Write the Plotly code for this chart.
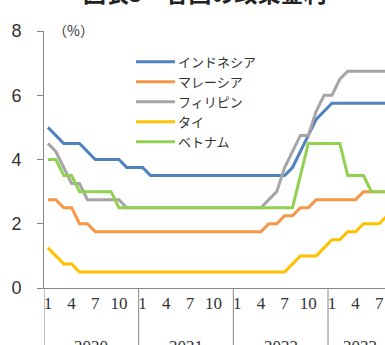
import plotly.graph_objects as go

# monthly policy rates, Jan 2020 - Aug 2023 (%)
indonesia = [5.00, 4.75, 4.50, 4.50, 4.50, 4.25, 4.00, 4.00, 4.00, 4.00, 3.75, 3.75,
             3.75, 3.50, 3.50, 3.50, 3.50, 3.50, 3.50, 3.50, 3.50, 3.50, 3.50, 3.50,
             3.50, 3.50, 3.50, 3.50, 3.50, 3.50, 3.50, 3.75, 4.25, 4.75, 5.25, 5.50,
             5.75, 5.75, 5.75, 5.75, 5.75, 5.75, 5.75, 5.75]
malaysia = [2.75, 2.75, 2.50, 2.50, 2.00, 2.00, 1.75, 1.75, 1.75, 1.75, 1.75, 1.75,
            1.75, 1.75, 1.75, 1.75, 1.75, 1.75, 1.75, 1.75, 1.75, 1.75, 1.75, 1.75,
            1.75, 1.75, 1.75, 1.75, 2.00, 2.00, 2.25, 2.25, 2.50, 2.50, 2.75, 2.75,
            2.75, 2.75, 2.75, 2.75, 3.00, 3.00, 3.00, 3.00]
philippines = [4.50, 4.25, 3.75, 3.25, 3.25, 2.75, 2.75, 2.75, 2.75, 2.75, 2.50, 2.50,
               2.50, 2.50, 2.50, 2.50, 2.50, 2.50, 2.50, 2.50, 2.50, 2.50, 2.50, 2.50,
               2.50, 2.50, 2.50, 2.50, 2.75, 3.00, 3.75, 4.25, 4.75, 4.75, 5.50, 6.00,
               6.00, 6.50, 6.75, 6.75, 6.75, 6.75, 6.75, 6.75]
thailand = [1.25, 1.00, 0.75, 0.75, 0.50, 0.50, 0.50, 0.50, 0.50, 0.50, 0.50, 0.50,
            0.50, 0.50, 0.50, 0.50, 0.50, 0.50, 0.50, 0.50, 0.50, 0.50, 0.50, 0.50,
            0.50, 0.50, 0.50, 0.50, 0.50, 0.50, 0.50, 0.75, 1.00, 1.00, 1.00, 1.25,
            1.50, 1.50, 1.75, 1.75, 2.00, 2.00, 2.00, 2.25]
vietnam = [4.00, 4.00, 3.50, 3.50, 3.00, 3.00, 3.00, 3.00, 3.00, 2.50, 2.50, 2.50,
           2.50, 2.50, 2.50, 2.50, 2.50, 2.50, 2.50, 2.50, 2.50, 2.50, 2.50, 2.50,
           2.50, 2.50, 2.50, 2.50, 2.50, 2.50, 2.50, 2.50, 3.50, 4.50, 4.50, 4.50,
           4.50, 4.50, 3.50, 3.50, 3.50, 3.00, 3.00, 3.00]

years = ["2020", "2021", "2022", "2023"]
months_per_year = [12, 12, 12, 8]
month_labels = ["1", "4", "7", "10"]

series = [
    ("インドネシア", indonesia, "#4F81BD"),
    ("マレーシア", malaysia, "#F79646"),
    ("フィリピン", philippines, "#A5A5A5"),
    ("タイ", thailand, "#FFC000"),
    ("ベトナム", vietnam, "#92D050"),
]

W, H = 385, 345
L, T, B = 44, 31, 57
PW, PH = W - L, H - T - B
MONTH_W = 7.889  # px per month in the original


def px_x(p):
    return (p - L) / PW


def px_y(p):
    return (H - B - p) / PH


x = list(range(len(indonesia)))

fig = go.Figure()
for name, vals, color in series:
    fig.add_trace(go.Scatter(x=x, y=vals, mode="lines", name=name,
                             line=dict(color=color, width=3), showlegend=False))

# month tick labels and year separators
tickvals, ticktext = [], []
shapes, annotations = [], []
start = 0
for yr, n in zip(years, months_per_year):
    for m in range(n):
        if str(m + 1) in month_labels:
            tickvals.append(start + m)
            ticktext.append(str(m + 1))
    shapes.append(dict(type="line", xref="x", yref="paper", x0=start - 0.5, x1=start - 0.5,
                       y0=0, y1=px_y(H + 5), line=dict(color="#868686", width=1)))
    annotations.append(dict(text=yr, xref="x", yref="paper", x=start + (n - 1) / 2,
                            y=px_y(335), yanchor="top", showarrow=False,
                            font=dict(family="Liberation Serif", size=17, color="#333")))
    start += n

# legend drawn by hand to match the original placement
for k, (name, vals, color) in enumerate(series):
    yy = px_y(61.7 + 20 * k)
    shapes.append(dict(type="line", xref="paper", yref="paper", x0=px_x(136), x1=px_x(175),
                       y0=yy, y1=yy, line=dict(color=color, width=3)))
    annotations.append(dict(text=name, xref="paper", yref="paper", x=px_x(176), y=yy,
                            xanchor="left", yanchor="middle", showarrow=False,
                            font=dict(family="Noto Sans CJK JP", size=13, color="#333")))

annotations.append(dict(text="（%）", xref="paper", yref="paper", x=px_x(51), y=px_y(30),
                        xanchor="left", yanchor="middle", showarrow=False,
                        font=dict(family="Noto Sans CJK JP", size=14, color="#333")))
annotations.append(dict(text="<b>図表5　各国の政策金利</b>", xref="paper", yref="paper",
                        x=px_x(205), y=px_y(11), xanchor="center", yanchor="bottom",
                        showarrow=False,
                        font=dict(family="Noto Sans CJK JP", size=23, color="#222")))

fig.update_layout(
    width=W, height=H,
    margin=dict(l=L, r=0, t=T, b=B, autoexpand=False),
    plot_bgcolor="white", paper_bgcolor="white",
    shapes=shapes, annotations=annotations,
    showlegend=False,
)
fig.update_xaxes(
    range=[-0.5, -0.5 + PW / MONTH_W], automargin=False,
    tickvals=tickvals, ticktext=ticktext, ticks="",
    showline=True, linecolor="#868686", linewidth=1, showgrid=False, zeroline=False,
    tickfont=dict(family="Liberation Serif", size=17, color="#333"),
)
fig.update_yaxes(
    range=[0, 8], dtick=2, ticks="outside", ticklen=6, tickcolor="#868686",
    automargin=False,
    showline=True, linecolor="#868686", linewidth=1, showgrid=False, zeroline=False,
    ticklabelstandoff=12,
    tickfont=dict(family="Liberation Sans", size=18, color="#333"),
)

# drop the browser's default body margin so the figure fills the window exactly
fig.write_html("out.html", config={"displayModeBar": False},
               post_script="document.body.style.margin='0';document.body.style.overflow='hidden';")
